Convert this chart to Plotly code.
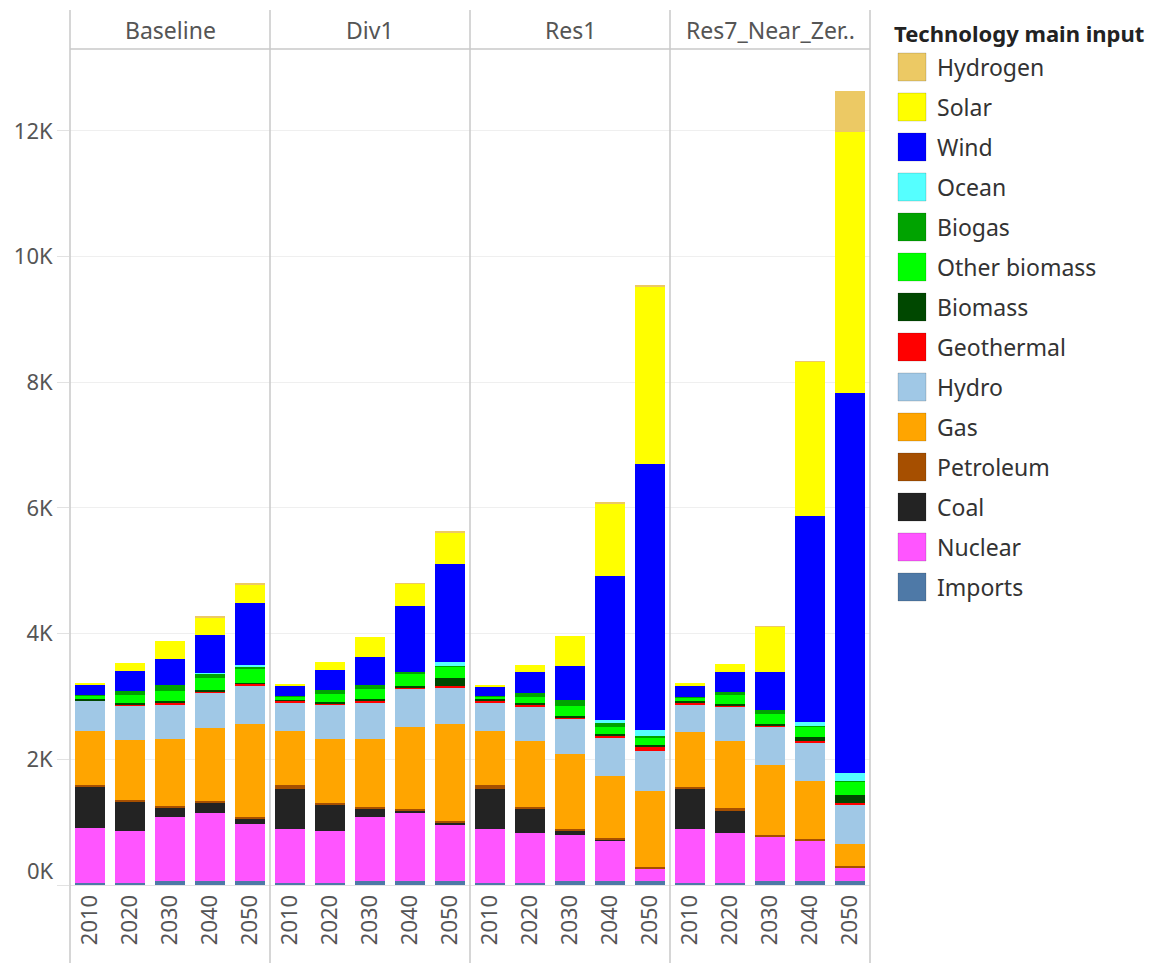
import plotly.graph_objects as go
from plotly.subplots import make_subplots

years = ["2010", "2020", "2030", "2040", "2050"]
scenarios = ["Baseline", "Div1", "Res1", "Res7_Near_Zero"]
scenario_labels = ["Baseline", "Div1", "Res1", "Res7_Near_Zer.."]

# stacking order, bottom to top
technologies = ["Imports", "Nuclear", "Coal", "Petroleum", "Gas", "Hydro", "Geothermal",
                "Biomass", "Other biomass", "Biogas", "Ocean", "Wind", "Solar", "Hydrogen"]

tech_colors = {
    "Hydrogen": "#ECC964", "Solar": "#FFFF00", "Wind": "#0000FF", "Ocean": "#55FFFF",
    "Biogas": "#00A300", "Other biomass": "#00FF00", "Biomass": "#004800",
    "Geothermal": "#FF0000", "Hydro": "#A0C8E6", "Gas": "#FFA500",
    "Petroleum": "#A64F00", "Coal": "#232323", "Nuclear": "#FF55FF", "Imports": "#4E79A7",
}

baseline_values = {
    "Imports": [30, 30, 70, 70, 70],
    "Nuclear": [870, 835, 1020, 1080, 895],
    "Coal": [670, 470, 140, 165, 100],
    "Petroleum": [25, 25, 25, 25, 25],
    "Gas": [860, 955, 1065, 1155, 1475],
    "Hydro": [475, 545, 550, 575, 610],
    "Geothermal": [10, 10, 30, 10, 27],
    "Biomass": [25, 27, 25, 30, 10],
    "Other biomass": [55, 133, 165, 190, 230],
    "Biogas": [10, 53, 90, 65, 37],
    "Ocean": [0, 0, 0, 5, 20],
    "Wind": [160, 322, 423, 605, 993],
    "Solar": [25, 132, 288, 281, 296],
    "Hydrogen": [0, 0, 0, 10, 10],
}

div1_values = {
    "Imports": [30, 30, 70, 70, 70],
    "Nuclear": [866, 834, 1018, 1081, 890],
    "Coal": [627, 409, 122, 37, 42],
    "Petroleum": [73, 37, 37, 20, 20],
    "Gas": [860, 1014, 1077, 1310, 1533],
    "Hydro": [436, 546, 578, 605, 589],
    "Geothermal": [40, 5, 40, 10, 30],
    "Biomass": [20, 32, 20, 32, 127],
    "Other biomass": [40, 138, 154, 202, 175],
    "Biogas": [10, 53, 69, 21, 10],
    "Ocean": [0, 0, 0, 0, 58],
    "Wind": [160, 318, 445, 1051, 1560],
    "Solar": [32, 127, 319, 355, 499],
    "Hydrogen": [0, 0, 0, 5, 15],
}

res1_values = {
    "Imports": [30, 30, 70, 70, 70],
    "Nuclear": [866, 803, 731, 635, 190],
    "Coal": [632, 377, 64, 5, 0],
    "Petroleum": [70, 37, 32, 32, 32],
    "Gas": [860, 1050, 1184, 987, 1209],
    "Hydro": [441, 541, 567, 605, 632],
    "Geothermal": [40, 42, 10, 37, 74],
    "Biomass": [20, 10, 32, 32, 16],
    "Other biomass": [37, 106, 159, 117, 122],
    "Biogas": [10, 64, 95, 53, 27],
    "Ocean": [0, 0, 0, 58, 90],
    "Wind": [150, 324, 540, 2291, 4239],
    "Solar": [32, 121, 478, 1147, 2822],
    "Hydrogen": [0, 0, 0, 15, 15],
}

res7_values = {
    "Imports": [30, 30, 70, 70, 70],
    "Nuclear": [866, 803, 699, 635, 195],
    "Coal": [640, 350, 0, 0, 0],
    "Petroleum": [27, 37, 32, 32, 32],
    "Gas": [864, 1077, 1109, 923, 350],
    "Hydro": [441, 541, 610, 605, 626],
    "Geothermal": [37, 10, 10, 32, 37],
    "Biomass": [21, 32, 32, 53, 122],
    "Other biomass": [58, 138, 159, 170, 212],
    "Biogas": [10, 53, 64, 16, 16],
    "Ocean": [0, 0, 0, 53, 117],
    "Wind": [185, 318, 610, 3279, 6053],
    "Solar": [30, 133, 716, 2456, 4148],
    "Hydrogen": [0, 0, 10, 15, 663],
}

y_tick_values = [0, 2000, 4000, 6000, 8000, 10000, 12000]
y_tick_labels = ["0K", "2K", "4K", "6K", "8K", "10K", "12K"]

scenario_data = [baseline_values, div1_values, res1_values, res7_values]

# ---- layout geometry (screen pixels) ----
W, H = 1157, 963
OFF = 8                      # page body margin offset
L, R, T, B = 70, 870, 48, 885
FONT = "Noto Sans"
TXT = "#555555"


def px_x(p):
    return (p - L) / (R - L)


def px_y(p):
    return (B - p) / (B - T)


fig = make_subplots(rows=1, cols=4, shared_yaxes=True, horizontal_spacing=0)

for c, data in enumerate(scenario_data, start=1):
    for tech in technologies:
        fig.add_trace(
            go.Bar(
                x=years, y=data[tech], name=tech,
                marker=dict(color=tech_colors[tech], line=dict(width=0)),
                showlegend=False,
                hovertemplate=tech + ": %{y}<extra></extra>",
            ),
            row=1, col=c,
        )

fig.update_layout(
    width=W, height=H,
    margin=dict(l=L - OFF, r=W - R + OFF, t=T - OFF, b=H - B + OFF, pad=0,
                autoexpand=False),
    barmode="stack", bargap=0.25,
    plot_bgcolor="white", paper_bgcolor="white",
    font=dict(family=FONT, size=22, color=TXT),
    showlegend=False,
)

fig.update_xaxes(
    type="category", range=[-0.5, 4.5], tickangle=-90,
    tickfont=dict(family=FONT, size=22, color=TXT),
    showline=True, linecolor="#e2e2e2", linewidth=1,
    showgrid=False, ticks="", fixedrange=True, automargin=False,
)
fig.update_yaxes(
    range=[0, 13320], tickvals=y_tick_values,
    ticktext=[""] + y_tick_labels[1:],
    showgrid=True, gridcolor="#efefef", gridwidth=1,
    zeroline=False, showline=False,
    ticks="", fixedrange=True, automargin=False,
)
fig.update_yaxes(
    ticks="outside", ticklen=12, tickcolor="#e2e2e2",
    tickfont=dict(family=FONT, size=22, color=TXT),
    row=1, col=1,
)

annotations = []
shapes = []

# bottom "0K" label (lifted slightly, as in the reference)
annotations.append(dict(
    x=px_x(56), xref="paper", y=0, yref="y", yshift=15,
    text=y_tick_labels[0], showarrow=False, xanchor="right", yanchor="middle",
    font=dict(family=FONT, size=22, color=TXT),
))

# panel headers
for k, lab in enumerate(scenario_labels):
    annotations.append(dict(
        x=px_x(L + 100 + 200 * k), xref="paper", y=px_y(30), yref="paper",
        text=lab, showarrow=False, xanchor="center", yanchor="middle",
        font=dict(family=FONT, size=23, color=TXT),
    ))

# panel separators and header line
for k in range(5):
    xp = px_x(L + 200 * k)
    shapes.append(dict(type="line", xref="paper", yref="paper",
                       x0=xp, x1=xp, y0=px_y(H), y1=px_y(10),
                       line=dict(color="#c8c8c8", width=1.5)))
shapes.append(dict(type="line", xref="paper", yref="paper",
                   x0=0, x1=1, y0=px_y(49), y1=px_y(49),
                   line=dict(color="#c8c8c8", width=1.5)))

# legend (drawn by hand, top to bottom)
legend_order = technologies[::-1]
annotations.append(dict(
    x=px_x(892), xref="paper", y=px_y(33), yref="paper",
    text="<b>Technology main input</b>", showarrow=False,
    xanchor="left", yanchor="middle",
    font=dict(family=FONT, size=22, color="#222222"),
))
for i, tech in enumerate(legend_order):
    cy = 67 + 40 * i
    shapes.append(dict(type="rect", xref="paper", yref="paper",
                       x0=px_x(898), x1=px_x(926), y0=px_y(cy + 14), y1=px_y(cy - 14),
                       fillcolor=tech_colors[tech],
                       line=dict(color="rgba(0,0,0,0.15)", width=1)))
    annotations.append(dict(
        x=px_x(935), xref="paper", y=px_y(cy), yref="paper",
        text=tech, showarrow=False, xanchor="left", yanchor="middle",
        font=dict(family=FONT, size=23, color="#333333"),
    ))

fig.update_layout(annotations=annotations, shapes=shapes)

fig.write_html("out.html")
